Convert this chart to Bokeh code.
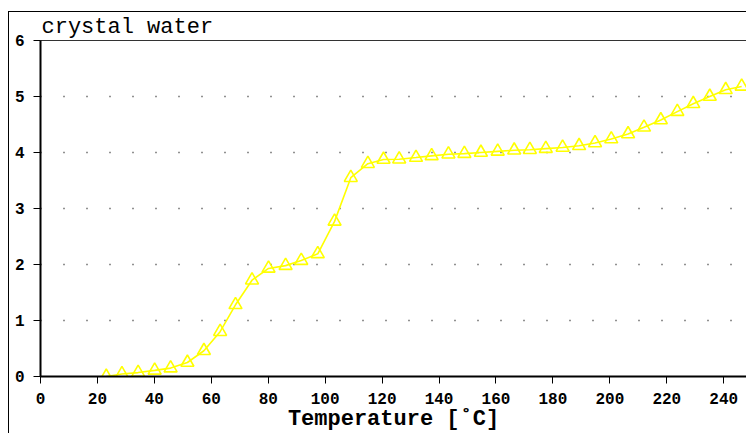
from bokeh.plotting import figure
from bokeh.models import Range1d, FixedTicker
from bokeh.embed import file_html
from bokeh.resources import INLINE

# data
temperature = [23.1, 28.6, 34.3, 40.1, 45.7, 51.6, 57.4, 63.1, 68.5, 74.3,
               80.1, 86.1, 91.6, 97.4, 103.3, 109.0, 115.0, 120.5, 126.0, 131.9,
               137.4, 143.3, 148.9, 154.7, 160.6, 166.4, 171.9, 177.5, 183.4, 189.2,
               194.8, 200.5, 206.4, 212.0, 217.9, 223.7, 229.3, 235.1, 240.7, 246.3]
water = [0.0, 0.045, 0.07, 0.11, 0.15, 0.25, 0.46, 0.80, 1.28, 1.72,
         1.93, 1.98, 2.07, 2.19, 2.77, 3.55, 3.80, 3.875, 3.88, 3.91,
         3.94, 3.97, 3.98, 4.0, 4.02, 4.04, 4.05, 4.07, 4.09, 4.12,
         4.17, 4.24, 4.33, 4.45, 4.58, 4.73, 4.87, 5.0, 5.12, 5.18]
x_ticks = [0, 20, 40, 60, 80, 100, 120, 140, 160, 180, 200, 220, 240]
y_ticks = [0, 1, 2, 3, 4, 5, 6]

FONT = "Liberation Mono"

p = figure(frame_width=706, frame_height=336,
           output_backend="svg", toolbar_location=None,
           x_range=Range1d(0, 248), y_range=Range1d(0, 6),
           min_border_left=31, min_border_top=27, min_border_right=0,
           min_border_bottom=40)
p.styles = {"border-left": "1px solid black", "border-top": "1px solid black",
            "margin-top": "11px", "margin-left": "8px"}

p.title.text = "crystal water"
p.title.text_font = FONT
p.title.text_font_size = "22px"
p.title.text_font_style = "normal"
p.title.text_color = "black"
p.title.align = "left"
p.title.offset = 1
p.title.standoff = 1

p.outline_line_color = "#333333"
p.outline_line_width = 1

p.xgrid.grid_line_color = None
p.ygrid.grid_line_color = "#222222"
p.ygrid.grid_line_dash = "1 22"
p.ygrid.grid_line_width = 1.5
p.ygrid.ticker = FixedTicker(ticks=[1, 2, 3, 4, 5])

for ax in (p.xaxis[0], p.yaxis[0]):
    ax.axis_line_width = 2
    ax.axis_line_color = "black"
    ax.major_tick_line_color = "black"
    ax.major_tick_line_width = 1
    ax.major_tick_out = 7
    ax.major_tick_in = 0
    ax.minor_tick_line_color = None
    ax.major_label_text_font = FONT
    ax.major_label_text_font_size = "16px"
    ax.major_label_text_font_style = "bold"
    ax.major_label_text_color = "black"

p.xaxis.major_label_standoff = 9
p.yaxis.major_label_standoff = 9
p.xaxis.ticker = FixedTicker(ticks=x_ticks)
p.yaxis.ticker = FixedTicker(ticks=y_ticks)
p.xaxis.axis_label = "Temperature [\u02daC]"
p.xaxis.axis_label_text_font = FONT
p.xaxis.axis_label_text_font_size = "22px"
p.xaxis.axis_label_text_font_style = "bold"
p.xaxis.axis_label_text_color = "black"
p.xaxis.axis_label_standoff = 0

p.line(temperature, water, line_color="#ffff00", line_width=1.6)
p.scatter(temperature, water, marker="triangle", size=13,
          fill_color=None, line_color="#ffff00", line_width=1.6)

open("out.html", "w").write(file_html(p, INLINE))
